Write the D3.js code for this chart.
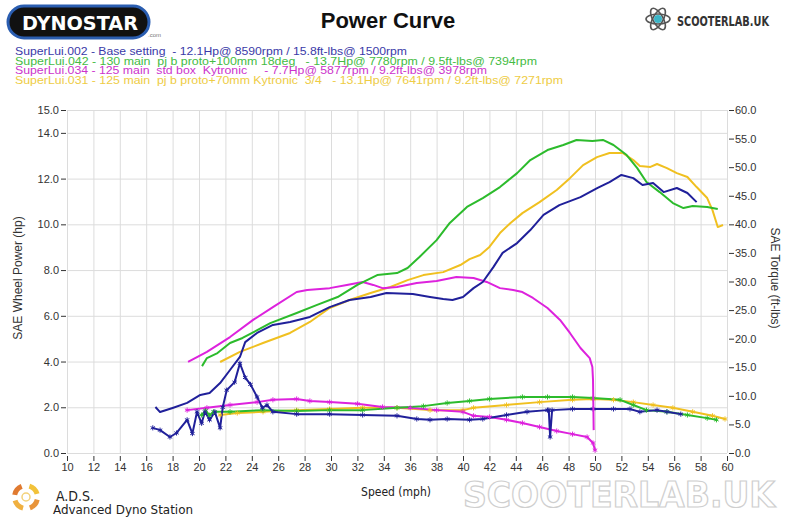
<!DOCTYPE html>
<html>
<head>
<meta charset="utf-8">
<script src="https://cdn.jsdelivr.net/npm/d3@7"></script>
<style>
  body { margin: 0; background: #fff; }
  svg { display: block; font-family: "Liberation Sans", Arial, sans-serif; }
</style>
</head>
<body>
<svg id="chart" width="800" height="519"></svg>
<script>
// ---- data ----
const speedTicks = d3.range(10, 61, 2);
const hpTicks = [0, 2, 4, 6, 8, 10, 12, 14, 15];
const torqueTicks = d3.range(0, 61, 5);

const runNames = [
  "SuperLui.002 - Base setting  - 12.1Hp@ 8590rpm / 15.8ft-lbs@ 1500rpm",
  "SuperLui.042 - 130 main  pj b proto+100mm 18deg   - 13.7Hp@ 7780rpm / 9.5ft-lbs@ 7394rpm",
  "SuperLui.034 - 125 main  std box  Kytronic     - 7.7Hp@ 5877rpm / 9.2ft-lbs@ 3978rpm",
  "SuperLui.031 - 125 main  pj b proto+70mm Kytronic  3/4   - 13.1Hp@ 7641rpm / 9.2ft-lbs@ 7271rpm"
];

// [speed mph, power hp]
const blueHp = [[16.7,2.01],[17.05,1.79],[18.0,1.97],[19.1,2.19],[20.1,2.54],[20.8,2.62],[21.6,3.06],
  [22.35,3.63],[23.1,4.2],[23.5,4.85],[24.4,5.25],[25.6,5.6],[26.9,5.73],[28.4,5.95],[29.9,6.38],
  [31.4,6.69],[33.0,6.82],[34.2,7.0],[36.2,6.95],[37.5,6.82],[38.5,6.73],[39.2,6.69],[40.0,6.82],
  [40.8,7.21],[41.5,7.48],[42.3,8.13],[43.0,8.75],[44.1,9.18],[45.1,9.75],[46.1,10.41],[47.3,10.84],
  [48.9,11.19],[50.2,11.59],[51.1,11.85],[52.0,12.16],[52.9,12.02],[53.6,11.72],[54.4,11.81],
  [55.2,11.41],[56.2,11.59],[57.0,11.37],[57.7,10.97]];
const greenHp = [[20.23,3.8],[20.6,4.15],[21.4,4.37],[22.35,4.81],[23.3,5.03],[25.4,5.68],[27.4,6.12],
  [28.9,6.47],[30.5,6.82],[32.0,7.35],[33.5,7.78],[35.0,7.87],[35.8,8.09],[36.7,8.57],[38.0,9.31],
  [39.0,10.06],[40.3,10.76],[41.5,11.15],[42.8,11.63],[44.1,12.24],[45.1,12.81],[46.4,13.25],
  [47.6,13.47],[48.6,13.69],[49.8,13.64],[50.6,13.69],[51.4,13.47],[52.4,13.03],[53.2,12.46],
  [53.9,11.85],[54.9,11.41],[55.9,10.93],[56.7,10.71],[57.4,10.8],[58.5,10.76],[59.3,10.67]];
const magentaHp = [[19.17,3.98],[20.6,4.42],[22.35,5.07],[24.1,5.82],[25.6,6.38],[27.4,7.04],
  [28.2,7.13],[29.9,7.21],[31.2,7.35],[32.4,7.48],[33.2,7.35],[33.9,7.21],[35.0,7.26],[36.5,7.43],
  [38.0,7.52],[39.5,7.7],[40.8,7.65],[41.8,7.48],[42.8,7.21],[43.8,7.13],[44.5,7.04],[45.3,6.78],
  [46.4,6.34],[47.35,5.82],[48.1,5.25],[48.9,4.59],[49.6,4.15],[49.8,3.76],[49.85,3.19],[49.9,1.0]];
const yellowHp = [[21.6,3.98],[23.1,4.42],[24.85,4.81],[26.9,5.25],[28.4,5.73],[29.9,6.34],
  [31.4,6.69],[33.0,7.0],[34.5,7.26],[35.8,7.56],[37.0,7.78],[38.5,7.91],[39.8,8.22],[40.5,8.48],
  [41.3,8.66],[42.0,9.01],[42.8,9.62],[43.6,10.06],[44.5,10.49],[45.8,10.97],[47.1,11.5],
  [48.1,12.02],[49.1,12.59],[50.15,12.94],[51.1,13.12],[52.1,13.12],[52.9,12.81],[53.4,12.55],
  [54.2,12.51],[54.7,12.64],[55.45,12.46],[56.2,12.24],[57.0,12.07],[57.7,11.63],[58.5,11.15],
  [58.9,10.62],[59.3,9.88],[59.7,9.97]];

// [speed mph, torque ft-lbs]
const blueTq = [[16.5,4.4],[17.05,4.0],[17.8,2.8],[18.3,3.5],[19.1,5.8],[19.5,3.4],[19.85,7.2],
  [20.2,5.2],[20.45,7.2],[20.8,5.8],[21.2,7.2],[21.6,4.4],[21.8,8.0],[22.1,11.0],[22.7,12.4],
  [23.1,15.7],[23.5,13.2],[23.9,12.0],[24.4,9.8],[24.8,7.9],[25.15,8.4],[25.6,7.2],[27.4,6.8],
  [29.9,6.8],[32.4,6.65],[35.0,6.5],[36.5,5.95],[37.5,5.8],[38.8,5.95],[40.5,5.8],[41.5,5.95],
  [43.3,6.65],[44.85,7.2],[46.4,7.5],[46.5,7.5],[46.6,2.8],[46.75,7.5],[48.3,7.7],[49.85,7.7],
  [51.4,7.7],[52.65,7.7],[53.4,7.2],[54.7,7.5],[55.45,7.2],[56.5,6.8]];
const greenTq = [[20.2,6.65],[20.5,7.4],[20.8,6.6],[21.1,7.2],[22.35,7.2],[24.85,7.5],[27.4,7.35],
  [29.9,7.5],[32.4,7.5],[35.0,7.9],[37.0,8.2],[38.8,8.75],[40.5,9.1],[42.0,9.45],[44.5,9.8],
  [46.4,9.8],[48.3,9.8],[49.85,9.6],[51.9,9.3],[52.9,8.4],[53.9,7.5],[55.45,7.2],[57.0,6.65],
  [58.5,6.1],[59.2,5.8]];
const magentaTq = [[19.1,7.5],[20.6,7.9],[22.35,8.4],[24.4,8.9],[25.6,9.3],[27.4,9.45],[28.4,9.1],
  [29.9,8.9],[32.0,8.6],[33.9,8.05],[36.0,7.9],[38.0,7.5],[40.0,7.2],[40.8,6.5],[42.0,6.3],
  [43.3,5.8],[44.5,5.25],[45.8,4.55],[47.1,3.85],[48.3,3.3],[49.4,2.8],[49.85,1.75],[50.0,0.5]];
const yellowTq = [[21.6,6.65],[22.9,7.0],[24.85,7.2],[27.4,7.5],[29.9,7.7],[32.4,7.9],[35.0,7.9],
  [37.5,7.5],[40.0,7.5],[40.8,7.9],[43.3,8.4],[45.8,8.9],[48.3,9.3],[49.85,9.45],[51.4,9.3],
  [52.9,8.9],[54.4,8.4],[55.9,7.9],[57.4,7.2],[58.9,6.5],[59.85,5.95]];

// ---- drawing ----
const colors = ["#20209a", "#2cbb2c", "#dd22dd", "#f0c020"];
const textColors = ["#3a3aa8", "#44bb44", "#cc33cc", "#eecc44"];
const legendWidths = [392, 522, 472, 548];

const svg = d3.select("#chart");
const plot = { left: 67, right: 727, top: 110, bottom: 453 };

const x = d3.scaleLinear().domain([10, 60]).range([plot.left, plot.right]);
const yHp = d3.scaleLinear().domain([0, 15]).range([plot.bottom, plot.top]);
const yTq = d3.scaleLinear().domain([0, 60]).range([plot.bottom, plot.top]);

// watermark first so ticks sit on top
svg.append("text").attr("x", 463).attr("y", 507)
  .attr("textLength", 312).attr("lengthAdjust", "spacingAndGlyphs")
  .style("font-family", "'DejaVu Sans Condensed', sans-serif").style("font-size", "36px").style("font-weight", "bold")
  .attr("fill", "#fff").attr("stroke", "#cfcfcf").attr("stroke-width", 1.2)
  .text("SCOOTERLAB.UK");

// grid
const grid = svg.append("g").attr("stroke", "#dcdcdc").attr("stroke-width", 1);
grid.selectAll("line.v").data(speedTicks).join("line")
  .attr("class", "v")
  .attr("x1", d => x(d) + 0.5).attr("x2", d => x(d) + 0.5)
  .attr("y1", plot.top).attr("y2", plot.bottom);
grid.selectAll("line.h").data(hpTicks).join("line")
  .attr("class", "h")
  .attr("x1", plot.left).attr("x2", plot.right)
  .attr("y1", d => yHp(d) + 0.5).attr("y2", d => yHp(d) + 0.5);

// axes
function styleAxis(g) {
  g.select(".domain").remove();
  g.selectAll(".tick line").attr("stroke", "#333");
  g.selectAll(".tick text").attr("fill", "#333").style("font-size", "11px")
    .style("font-family", "'Liberation Sans', Arial, sans-serif");
}
svg.append("g")
  .attr("transform", `translate(0,${plot.bottom + 3})`)
  .call(d3.axisBottom(x).tickValues(speedTicks).tickSize(5).tickPadding(2).tickFormat(d3.format("d")))
  .call(styleAxis);
svg.append("g")
  .attr("transform", `translate(${plot.left - 1},0)`)
  .call(d3.axisLeft(yHp).tickValues(hpTicks).tickSize(5).tickPadding(2).tickFormat(d3.format(".1f")))
  .call(styleAxis);
svg.append("g")
  .attr("transform", `translate(${plot.right + 2},0)`)
  .call(d3.axisRight(yTq).tickValues(torqueTicks).tickSize(5).tickPadding(1).tickFormat(d3.format(".1f")))
  .call(styleAxis);

// curves
const hpLine = d3.line().x(d => x(d[0])).y(d => yHp(d[1]));
const tqLine = d3.line().x(d => x(d[0])).y(d => yTq(d[1]));
const hpSeries = [blueHp, greenHp, magentaHp, yellowHp];
const tqSeries = [blueTq, greenTq, magentaTq, yellowTq];
const drawOrder = [3, 2, 1, 0];

const curves = svg.append("g").attr("fill", "none").attr("stroke-linejoin", "round");
drawOrder.forEach(i => {
  curves.append("path").attr("d", tqLine(tqSeries[i]))
    .attr("stroke", colors[i]).attr("stroke-width", 2);
});
const star = d3.symbol().type(d3.symbolAsterisk || d3.symbolCross).size(18);
drawOrder.forEach(i => {
  curves.append("g").selectAll("path").data(tqSeries[i]).join("path")
    .attr("transform", d => `translate(${x(d[0])},${yTq(d[1])})`)
    .attr("d", star).attr("stroke", colors[i]).attr("stroke-width", 1);
});
drawOrder.forEach(i => {
  curves.append("path").attr("d", hpLine(hpSeries[i]))
    .attr("stroke", colors[i]).attr("stroke-width", 2);
});

// title and run legend
svg.append("text").attr("x", 388).attr("y", 28).attr("text-anchor", "middle")
  .style("font-size", "22px").style("font-weight", "bold").attr("fill", "#111")
  .text("Power Curve");

svg.append("g").selectAll("text").data(runNames).join("text")
  .attr("x", 15).attr("y", (d, i) => 55 + i * 9.7)
  .attr("textLength", (d, i) => legendWidths[i]).attr("lengthAdjust", "spacingAndGlyphs")
  .style("font-size", "11px").style("white-space", "pre").attr("xml:space", "preserve")
  .attr("fill", (d, i) => textColors[i])
  .text(d => d);

// axis titles
svg.append("text").attr("transform", "translate(22,278) rotate(-90)")
  .attr("text-anchor", "middle").style("font-size", "12px").attr("fill", "#333")
  .text("SAE Wheel Power (hp)");
svg.append("text").attr("transform", "translate(771,278) rotate(90)")
  .attr("text-anchor", "middle").style("font-size", "12px").attr("fill", "#333")
  .text("SAE Torque (ft-lbs)");
svg.append("text").attr("x", 396).attr("y", 496).attr("text-anchor", "middle")
  .style("font-size", "12px").style("font-family", "'DejaVu Sans Condensed', sans-serif").attr("fill", "#222")
  .text("Speed (mph)");

// Dynostar logo
const dyno = svg.append("g");
dyno.append("rect").attr("x", 8).attr("y", 6).attr("width", 141).attr("height", 32).attr("rx", 16)
  .attr("fill", "#111").attr("stroke", "#2a5db0").attr("stroke-width", 3);
dyno.append("text").attr("x", 22).attr("y", 30)
  .attr("textLength", 116).attr("lengthAdjust", "spacingAndGlyphs")
  .style("font-family", "'DejaVu Sans', sans-serif").style("font-size", "19px").style("font-weight", "bold")
  .attr("fill", "#fff").text("DYNOSTAR");
dyno.append("text").attr("x", 148).attr("y", 37).style("font-size", "6px").attr("fill", "#777").text(".com");

// ScooterLab logo
const sl = svg.append("g").attr("transform", "translate(658,19)").attr("fill", "none");
[0, 60, -60].forEach(a => {
  sl.append("ellipse").attr("rx", 12).attr("ry", 5).attr("transform", `rotate(${a})`)
    .attr("stroke", "#555").attr("stroke-width", 1.6);
});
sl.append("circle").attr("r", 4).attr("fill", "#3bb6c8");
svg.append("text").attr("x", 677).attr("y", 26)
  .attr("textLength", 92).attr("lengthAdjust", "spacingAndGlyphs")
  .style("font-family", "'DejaVu Sans Condensed', sans-serif").style("font-size", "14px").style("font-weight", "bold")
  .attr("fill", "#333").text("SCOOTERLAB.UK");

// A.D.S. logo
const ads = svg.append("g").attr("transform", "translate(26,497)");
const arc = d3.arc().innerRadius(9).outerRadius(14);
[[0.3, 1.3, "#f2c23a"], [1.8, 2.8, "#e8943a"], [3.4, 4.4, "#f0b040"], [4.9, 5.9, "#e07a30"]].forEach(a => {
  ads.append("path").attr("d", arc({ startAngle: a[0], endAngle: a[1] })).attr("fill", a[2]);
});
ads.append("circle").attr("r", 4).attr("fill", "none").attr("stroke", "#f3d27a").attr("stroke-width", 1.5);
svg.append("text").attr("x", 56).attr("y", 501)
  .style("font-family", "'DejaVu Sans Condensed', sans-serif").style("font-size", "14px").attr("fill", "#222")
  .text("A.D.S.");
svg.append("text").attr("x", 53).attr("y", 514)
  .attr("textLength", 140).attr("lengthAdjust", "spacingAndGlyphs")
  .style("font-family", "'DejaVu Sans Condensed', sans-serif").style("font-size", "12px").attr("fill", "#222")
  .text("Advanced Dyno Station");
</script>
</body>
</html>
